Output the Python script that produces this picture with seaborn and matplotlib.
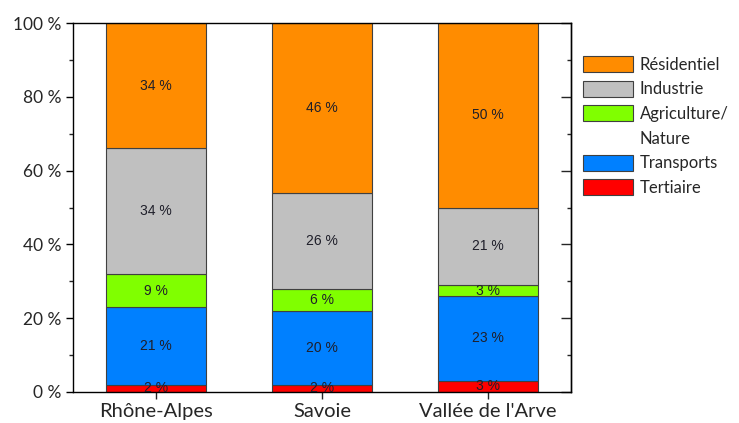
import numpy as np
import matplotlib
matplotlib.use("Agg")
import matplotlib.pyplot as plt
from matplotlib.patches import Patch
from matplotlib.ticker import MultipleLocator, FuncFormatter
import seaborn as sns

regions = ["Rhône-Alpes", "Savoie", "Vallée de l'Arve"]
# stacked from bottom to top
sectors = ["Tertiaire", "Transports", "Agriculture/\nNature", "Industrie", "Résidentiel"]
tertiaire = [2, 2, 3]
transports = [21, 20, 23]
agriculture = [9, 6, 3]
industrie = [34, 26, 21]
residentiel = [34, 46, 50]
colors = ["#ff0000", "#0080ff", "#80ff00", "#c0c0c0", "#ff8c00"]

sns.set_style("ticks")
plt.rcParams["font.family"] = ["Lato", "DejaVu Sans"]

fig = plt.figure(figsize=(7.39, 4.23), dpi=100)
ax = fig.add_axes([0.0988, 0.0733, 0.6739, 0.8723])

series = [tertiaire, transports, agriculture, industrie, residentiel]
bottom = np.zeros(len(regions))
handles = []
for name, vals, col in zip(sectors, series, colors):
    sns.barplot(x=regions, y=vals, bottom=bottom, color=col, width=0.6,
                edgecolor="#404040", linewidth=0.8, saturation=1,
                errorbar=None, ax=ax)
    for i, v in enumerate(vals):
        ax.text(i, bottom[i] + v / 2, f"{v} %", ha="center", va="center",
                fontsize=10, color="#1f1f2a", family="Liberation Sans")
    handles.append(Patch(facecolor=col, edgecolor="#404040", linewidth=0.8))
    bottom += np.array(vals)

ax.set_xlim(-0.5, 2.5)
ax.set_ylim(0, 100)
ax.yaxis.set_major_locator(MultipleLocator(20))
ax.yaxis.set_minor_locator(MultipleLocator(10))
ax.yaxis.set_major_formatter(FuncFormatter(lambda v, p: f"{v:.0f} %"))
ax.tick_params(axis="y", which="major", direction="out", length=5, width=1,
               labelsize=12.5, color="black")
ax.tick_params(axis="y", which="minor", direction="out", length=3, width=1)
ax.tick_params(axis="x", direction="out", length=5, width=1, labelsize=14.5, pad=3)
ax.set_xlabel("")
ax.set_ylabel("")
for s in ax.spines.values():
    s.set_visible(True)
    s.set_color("black")
    s.set_linewidth(1)

# right axis: ticks pointing inward, no labels
rax = ax.secondary_yaxis("right")
rax.yaxis.set_major_locator(MultipleLocator(20))
rax.yaxis.set_minor_locator(MultipleLocator(10))
rax.tick_params(which="major", direction="in", length=7, width=1, labelright=False)
rax.tick_params(which="minor", direction="in", length=3, width=1)
rax.spines["right"].set_linewidth(1)

# legend, top entry first; "Nature" sits on its own line
blank = Patch(facecolor="none", edgecolor="none")
leg_handles = [handles[4], handles[3], handles[2], blank, handles[1], handles[0]]
leg_labels = ["Résidentiel", "Industrie", "Agriculture/", "Nature", "Transports", "Tertiaire"]
fig.legend(leg_handles, leg_labels, loc="upper left", bbox_to_anchor=(0.78, 0.883),
           frameon=False, fontsize=12, handlelength=3.0, handleheight=1.1,
           handletextpad=0.4, labelspacing=0.48, borderaxespad=0)

fig.savefig("out.png", dpi=100)
